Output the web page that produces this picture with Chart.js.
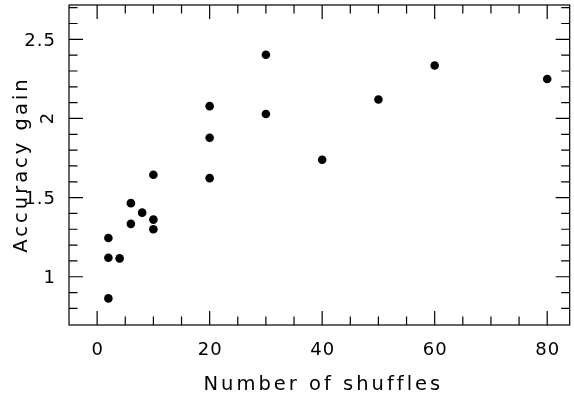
<!DOCTYPE html>
<html>
<head>
<meta charset="utf-8">
<script src="https://cdn.jsdelivr.net/npm/chart.js@4/dist/chart.umd.min.js"></script>
<style>
  html, body { margin: 0; padding: 0; background: #fff; }
  #wrap { width: 574px; height: 394px; }
</style>
</head>
<body>
<div id="wrap"><canvas id="chart" width="574" height="394"></canvas></div>
<script>
// shuffles vs accuracy gain
const shuffles = [2, 2, 2, 4, 6, 6, 8, 10, 10, 10, 20, 20, 20, 30, 30, 40, 50, 60, 80];
const gain = [0.863, 1.12, 1.245, 1.116, 1.334, 1.465, 1.405, 1.30, 1.361, 1.644,
  1.623, 1.878, 2.078, 2.028, 2.403, 1.739, 2.12, 2.335, 2.249];

const xMajor = [0, 20, 40, 60, 80];
const xMinor = [5, 10, 15, 25, 30, 35, 45, 50, 55, 65, 70, 75];
const yMajor = [1, 1.5, 2, 2.5];
const yMinor = [0.8, 0.9, 1.1, 1.2, 1.3, 1.4, 1.6, 1.7, 1.8, 1.9, 2.1, 2.2, 2.3, 2.4, 2.6, 2.7];
const xLabels = ['0', '20', '40', '60', '80'];
const yLabels = ['1', '1.5', '2', '2.5'];

const X_TITLE = 'Number of shuffles';
const Y_TITLE = 'Accuracy gain';
const FONT = '"DejaVu Sans", sans-serif';

const points = shuffles.map((x, i) => ({ x, y: gain[i] }));

// pgplot style box: inward ticks on all four sides, labels drawn by hand
const framePlugin = {
  id: 'frame',
  afterDraw(chart) {
    const { ctx, chartArea: area, scales } = chart;
    const xs = scales.x;
    const ys = scales.y;

    ctx.save();
    ctx.strokeStyle = '#000';
    ctx.lineWidth = 1.2;
    ctx.strokeRect(area.left, area.top, area.right - area.left, area.bottom - area.top);

    ctx.beginPath();
    const xTick = (value, len) => {
      const px = xs.getPixelForValue(value);
      ctx.moveTo(px, area.bottom);
      ctx.lineTo(px, area.bottom - len);
      ctx.moveTo(px, area.top);
      ctx.lineTo(px, area.top + len);
    };
    const yTick = (value, len) => {
      const py = ys.getPixelForValue(value);
      ctx.moveTo(area.left, py);
      ctx.lineTo(area.left + len, py);
      ctx.moveTo(area.right, py);
      ctx.lineTo(area.right - len, py);
    };
    xMajor.forEach((v) => xTick(v, 14));
    xMinor.forEach((v) => xTick(v, 8.5));
    yMajor.forEach((v) => yTick(v, 14));
    yMinor.forEach((v) => yTick(v, 8.5));
    ctx.stroke();

    ctx.fillStyle = '#000';
    ctx.font = `18px ${FONT}`;
    ctx.letterSpacing = '1px';
    ctx.textBaseline = 'alphabetic';

    ctx.textAlign = 'center';
    xMajor.forEach((v, i) => {
      ctx.fillText(xLabels[i], xs.getPixelForValue(v) + 0.5, 354.5);
    });

    yMajor.forEach((v, i) => {
      const py = ys.getPixelForValue(v);
      if (yLabels[i] === '2') {
        ctx.save();
        ctx.translate(53, py);
        ctx.rotate(-Math.PI / 2);
        ctx.textAlign = 'center';
        ctx.fillText(yLabels[i], 0.5, 0);
        ctx.restore();
      } else {
        ctx.textAlign = 'right';
        ctx.fillText(yLabels[i], 56, py + 6.6);
      }
    });

    ctx.font = `19.5px ${FONT}`;
    ctx.letterSpacing = '3px';
    ctx.textAlign = 'center';
    ctx.fillText(X_TITLE, (area.left + area.right) / 2 + 4, 389.5);

    ctx.save();
    ctx.translate(27, (area.top + area.bottom) / 2 + 1);
    ctx.rotate(-Math.PI / 2);
    ctx.fillText(Y_TITLE, 1.5, 0);
    ctx.restore();

    ctx.restore();
  },
};

const hiddenAxis = {
  grid: { display: false, drawTicks: false },
  border: { display: false },
  ticks: { display: false },
};

new Chart(document.getElementById('chart'), {
  type: 'scatter',
  data: {
    datasets: [{
      data: points,
      backgroundColor: '#000',
      borderWidth: 0,
      pointRadius: 4.3,
      pointHoverRadius: 4.3,
    }],
  },
  options: {
    responsive: false,
    animation: false,
    events: [],
    layout: {
      padding: { left: 69, right: 1.5, top: 5, bottom: 69 },
    },
    scales: {
      x: { type: 'linear', min: -5, max: 84, ...hiddenAxis },
      y: { type: 'linear', min: 0.695, max: 2.717, ...hiddenAxis },
    },
    plugins: {
      legend: { display: false },
      tooltip: { enabled: false },
    },
  },
  plugins: [framePlugin],
});
</script>
</body>
</html>
